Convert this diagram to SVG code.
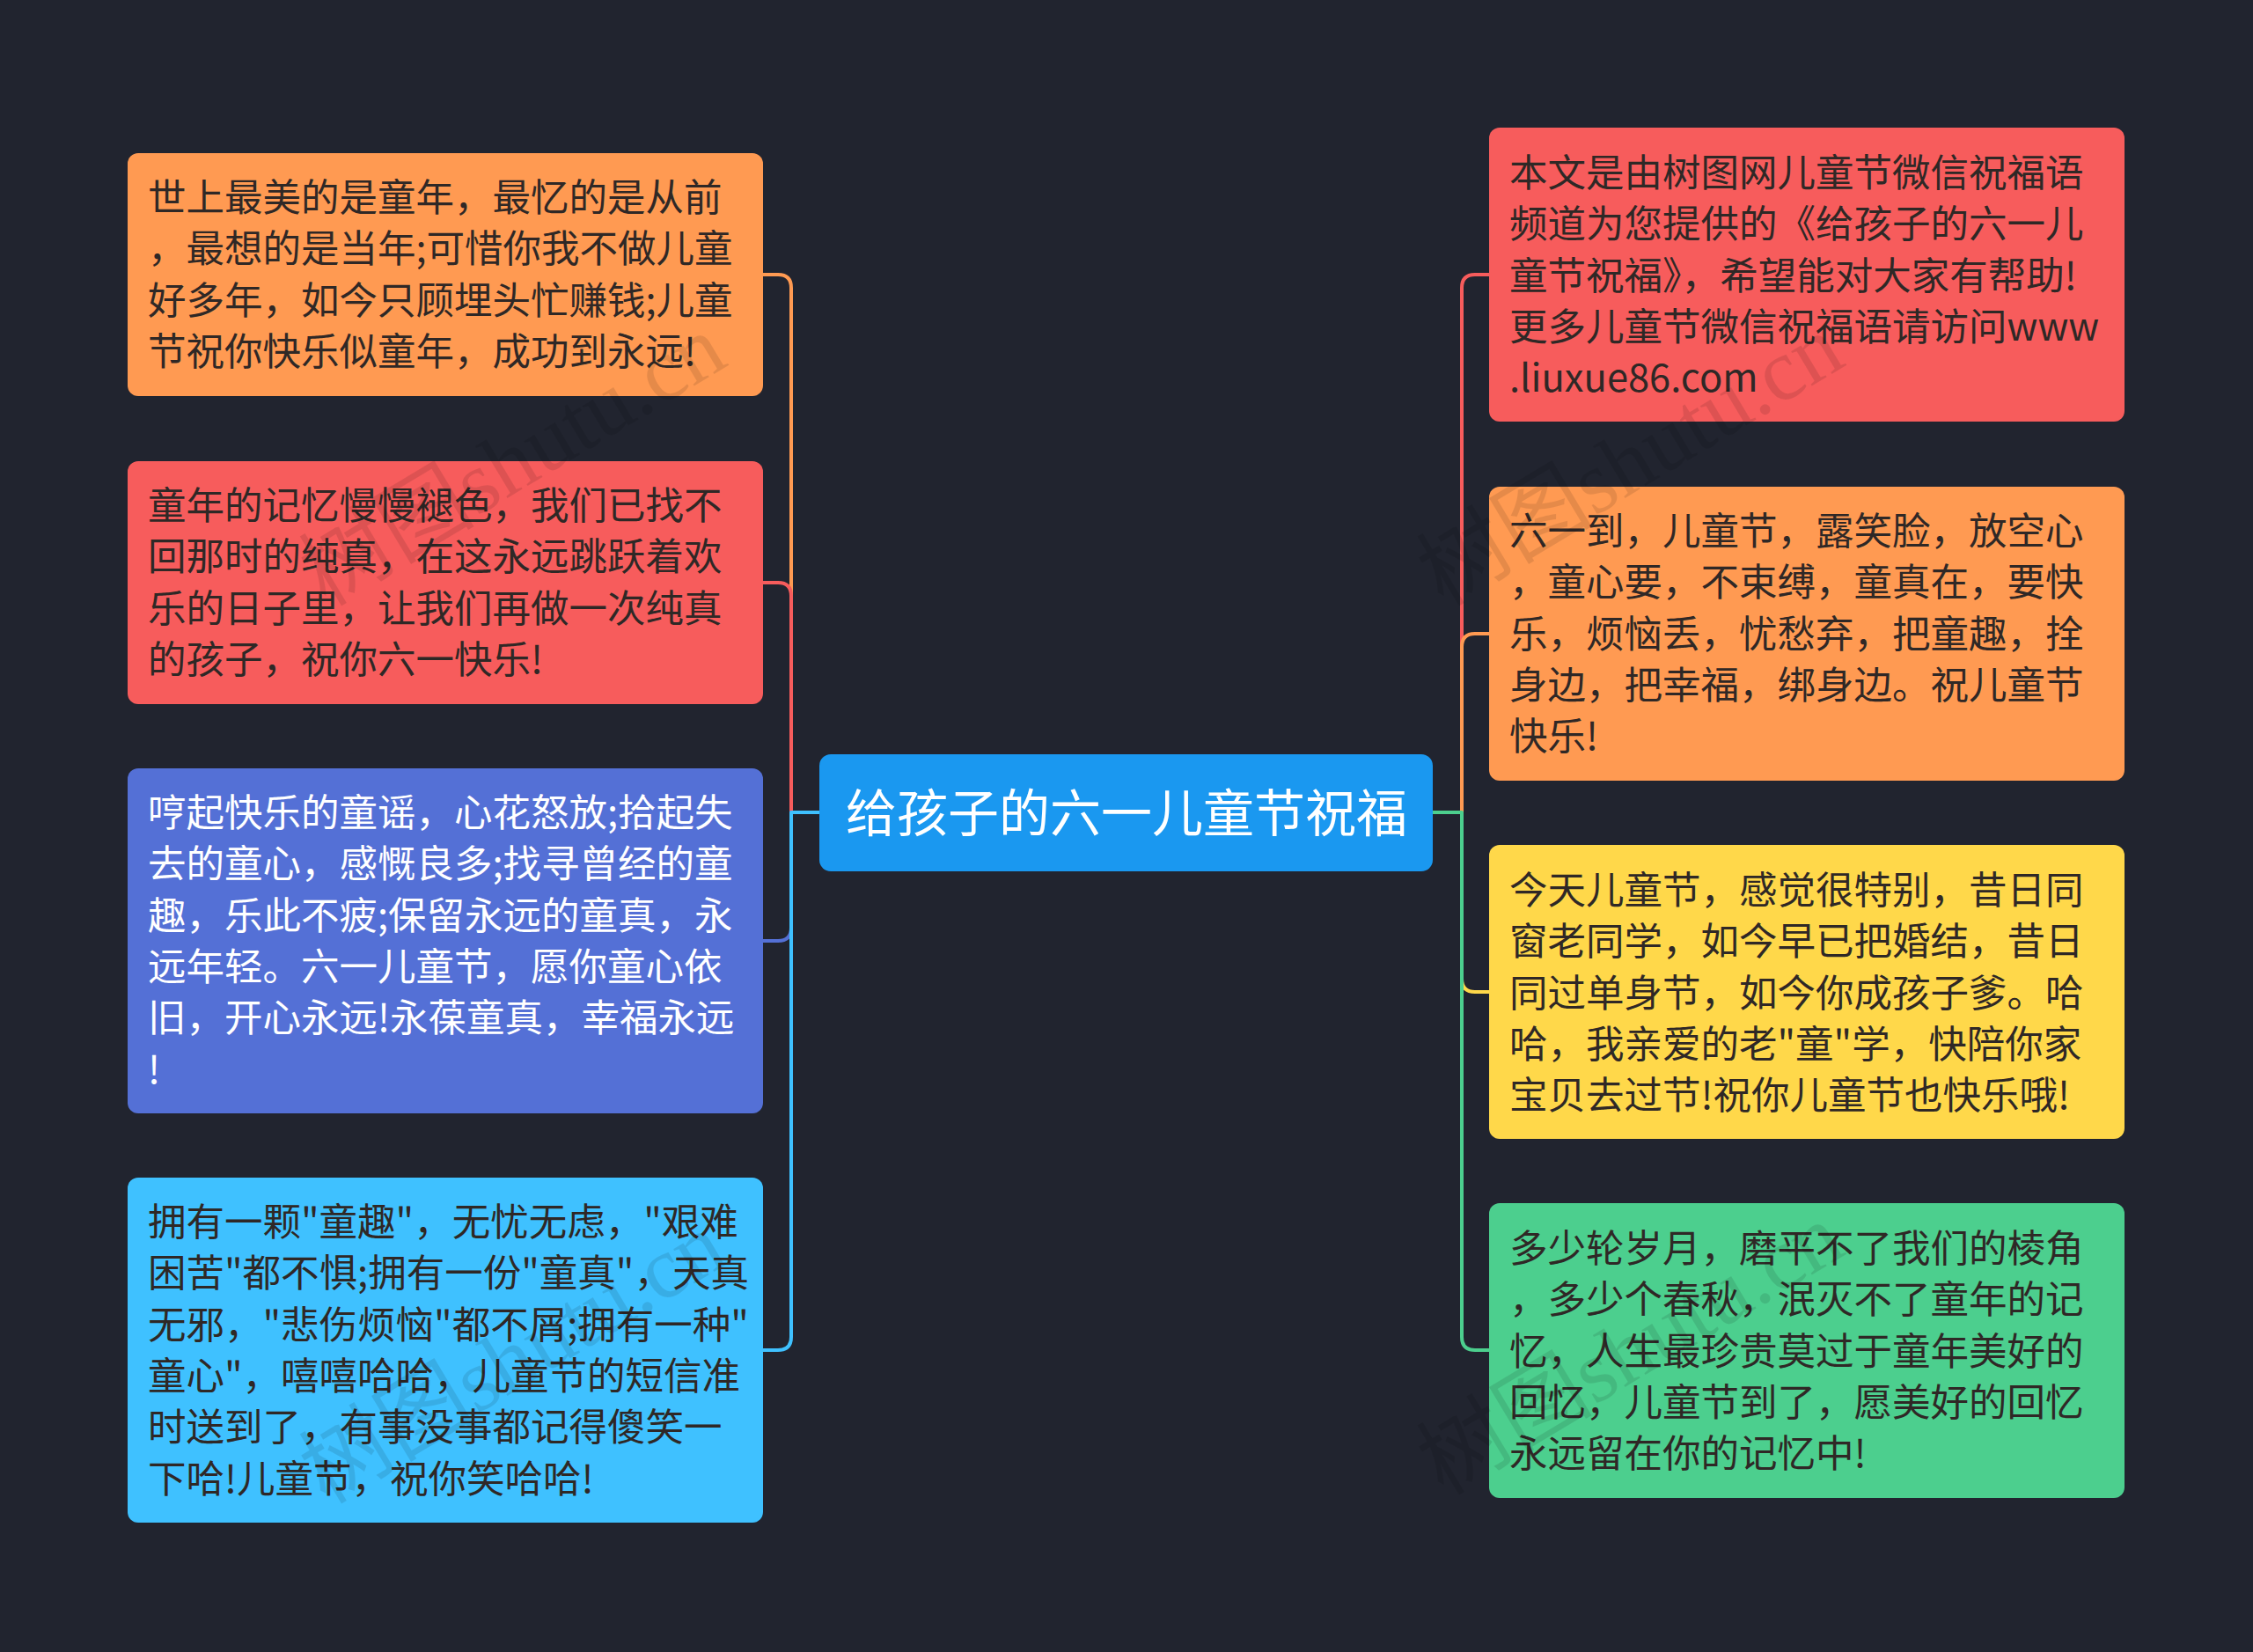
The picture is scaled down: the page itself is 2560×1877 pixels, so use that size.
<svg xmlns="http://www.w3.org/2000/svg" width="2560" height="1877" viewBox="0 0 2560 1877">
<style>
.t{font-family:"Noto Sans CJK SC","Noto Sans",sans-serif;font-size:43.5px;fill:#2f2826}
.w{fill:#ffffff}
.c{fill:none;stroke-width:4;stroke-linejoin:round;stroke-linecap:round}
.wm{font-family:"Liberation Serif","Noto Sans CJK SC",serif;font-size:100px;fill:#000000;fill-opacity:0.10}
</style>
<rect width="2560" height="1877" fill="#21242f"/>
<g id="connectors">
<path class="c" stroke="#ff9a52" d="M931 923 H899 V327 Q899 312 884 312 H867"/>
<path class="c" stroke="#f75c5c" d="M931 923 H899 V677 Q899 662 884 662 H867"/>
<path class="c" stroke="#5470d6" d="M931 923 H899 V1054 Q899 1069 884 1069 H867"/>
<path class="c" stroke="#3fc1ff" d="M931 923 H899 V1519 Q899 1534 884 1534 H867"/>
<path class="c" stroke="#f75c5c" d="M1628 923 H1661 V327 Q1661 312 1676 312 H1692"/>
<path class="c" stroke="#ff9a52" d="M1628 923 H1661 V735 Q1661 720 1676 720 H1692"/>
<path class="c" stroke="#ffd84a" d="M1628 923 H1661 V1112 Q1661 1127 1676 1127 H1692"/>
<path class="c" stroke="#4ccf8e" d="M1628 923 H1661 V1519 Q1661 1534 1676 1534 H1692"/>
</g>
<g id="center">
<rect x="931" y="857" width="697" height="133" rx="13" fill="#1a98f0"/>
<text x="1280" y="945" text-anchor="middle" style="font-family:'Noto Sans CJK SC','Noto Sans',sans-serif;font-size:58px;fill:#ffffff">给孩子的六一儿童节祝福</text>
</g>
<g id="node1">
<rect x="145" y="174" width="722" height="276" rx="12" fill="#ff9a52"/>
<text class="t"><tspan x="168" y="240">世上最美的是童年，最忆的是从前</tspan><tspan x="168" y="298.3">，最想的是当年;可惜你我不做儿童</tspan><tspan x="168" y="356.6">好多年，如今只顾埋头忙赚钱;儿童</tspan><tspan x="168" y="414.9">节祝你快乐似童年，成功到永远!</tspan></text>
</g>
<g id="node2">
<rect x="145" y="524" width="722" height="276" rx="12" fill="#f75c5c"/>
<text class="t"><tspan x="168" y="590">童年的记忆慢慢褪色，我们已找不</tspan><tspan x="168" y="648.3">回那时的纯真，在这永远跳跃着欢</tspan><tspan x="168" y="706.6">乐的日子里，让我们再做一次纯真</tspan><tspan x="168" y="764.9">的孩子，祝你六一快乐!</tspan></text>
</g>
<g id="node3">
<rect x="145" y="873" width="722" height="392" rx="12" fill="#5470d6"/>
<text class="t w"><tspan x="168" y="939">哼起快乐的童谣，心花怒放;拾起失</tspan><tspan x="168" y="997.3">去的童心，感慨良多;找寻曾经的童</tspan><tspan x="168" y="1055.6">趣，乐此不疲;保留永远的童真，永</tspan><tspan x="168" y="1113.9">远年轻。六一儿童节，愿你童心依</tspan><tspan x="168" y="1172.2">旧，开心永远!永葆童真，幸福永远</tspan><tspan x="168" y="1230.5">!</tspan></text>
</g>
<g id="node4">
<rect x="145" y="1338" width="722" height="392" rx="12" fill="#3fc1ff"/>
<text class="t"><tspan x="168" y="1404">拥有一颗"童趣"，无忧无虑，"艰难</tspan><tspan x="168" y="1462.3">困苦"都不惧;拥有一份"童真"，天真</tspan><tspan x="168" y="1520.6">无邪，"悲伤烦恼"都不屑;拥有一种"</tspan><tspan x="168" y="1578.9">童心"，嘻嘻哈哈，儿童节的短信准</tspan><tspan x="168" y="1637.2">时送到了，有事没事都记得傻笑一</tspan><tspan x="168" y="1695.5">下哈!儿童节，祝你笑哈哈!</tspan></text>
</g>
<g id="node5">
<rect x="1692" y="145" width="722" height="334" rx="12" fill="#f75c5c"/>
<text class="t"><tspan x="1715" y="212">本文是由树图网儿童节微信祝福语</tspan><tspan x="1715" y="270.3">频道为您提供的《给孩子的六一儿</tspan><tspan x="1715" y="328.6">童节祝福》，希望能对大家有帮助!</tspan><tspan x="1715" y="386.9">更多儿童节微信祝福语请访问www</tspan><tspan x="1715" y="445.2">.liuxue86.com</tspan></text>
</g>
<g id="node6">
<rect x="1692" y="553" width="722" height="334" rx="12" fill="#ff9a52"/>
<text class="t"><tspan x="1715" y="619">六一到，儿童节，露笑脸，放空心</tspan><tspan x="1715" y="677.3">，童心要，不束缚，童真在，要快</tspan><tspan x="1715" y="735.6">乐，烦恼丢，忧愁弃，把童趣，拴</tspan><tspan x="1715" y="793.9">身边，把幸福，绑身边。祝儿童节</tspan><tspan x="1715" y="852.2">快乐!</tspan></text>
</g>
<g id="node7">
<rect x="1692" y="960" width="722" height="334" rx="12" fill="#ffd84a"/>
<text class="t"><tspan x="1715" y="1027">今天儿童节，感觉很特别，昔日同</tspan><tspan x="1715" y="1085.3">窗老同学，如今早已把婚结，昔日</tspan><tspan x="1715" y="1143.6">同过单身节，如今你成孩子爹。哈</tspan><tspan x="1715" y="1201.9">哈，我亲爱的老"童"学，快陪你家</tspan><tspan x="1715" y="1260.2">宝贝去过节!祝你儿童节也快乐哦!</tspan></text>
</g>
<g id="node8">
<rect x="1692" y="1367" width="722" height="335" rx="12" fill="#4ccf8e"/>
<text class="t"><tspan x="1715" y="1434">多少轮岁月，磨平不了我们的棱角</tspan><tspan x="1715" y="1492.3">，多少个春秋，泯灭不了童年的记</tspan><tspan x="1715" y="1550.6">忆，人生最珍贵莫过于童年美好的</tspan><tspan x="1715" y="1608.9">回忆，儿童节到了，愿美好的回忆</tspan><tspan x="1715" y="1667.2">永远留在你的记忆中!</tspan></text>
</g>
<g id="watermarks">
<text class="wm" transform="translate(370 690) rotate(-31)">树图shutu.cn</text>
<text class="wm" transform="translate(1640 690) rotate(-31)">树图shutu.cn</text>
<text class="wm" transform="translate(370 1710) rotate(-31)">树图shutu.cn</text>
<text class="wm" transform="translate(1640 1700) rotate(-31)">树图shutu.cn</text>
</g>
</svg>
